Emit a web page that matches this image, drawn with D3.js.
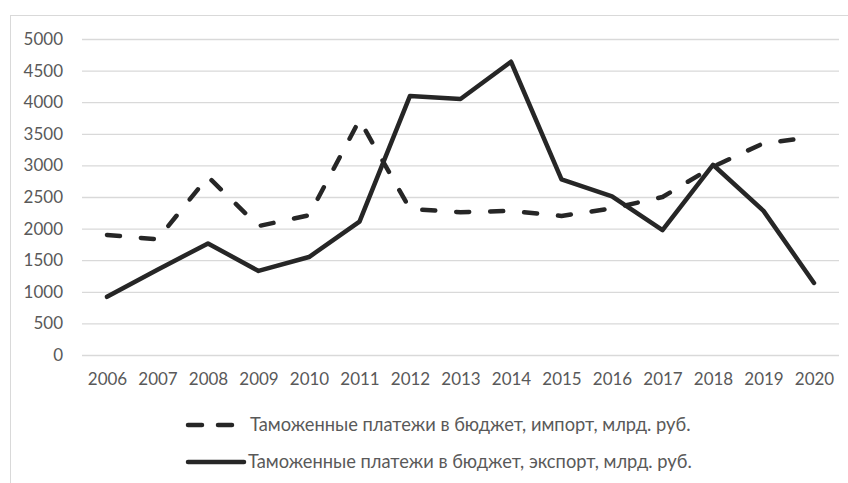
<!DOCTYPE html>
<html>
<head>
<meta charset="utf-8">
<script src="https://cdn.jsdelivr.net/npm/d3@7"></script>
<style>
  body { margin: 0; background: #fff; }
  svg { display: block; }
  text { font-family: Lato, "Open Sans", sans-serif; fill: #595959; }
</style>
</head>
<body>
<div id="chart"></div>
<script>
// data
var years = [2006, 2007, 2008, 2009, 2010, 2011, 2012, 2013, 2014, 2015, 2016, 2017, 2018, 2019, 2020];
var importValues = [1900, 1830, 2820, 2040, 2210, 3720, 2310, 2260, 2280, 2200, 2320, 2500, 2980, 3350, 3450];
var exportValues = [920, 1350, 1765, 1330, 1550, 2110, 4100, 4050, 4640, 2780, 2510, 1975, 3010, 2280, 1140];
var yTicks = [0, 500, 1000, 1500, 2000, 2500, 3000, 3500, 4000, 4500, 5000];
var seriesNames = [
  "Таможенные платежи в бюджет, импорт, млрд. руб.",
  "Таможенные платежи в бюджет, экспорт, млрд. руб."
];

var width = 848, height = 483;
var plot = {left: 82, right: 839, top: 39, bottom: 355};

var svg = d3.select("#chart")
  .append("svg")
  .attr("width", width)
  .attr("height", height);

// chart area border (cropped on right and bottom)
svg.append("rect")
  .attr("x", 10.5).attr("y", 15.5)
  .attr("width", width).attr("height", height)
  .attr("fill", "none")
  .attr("stroke", "#d9d9d9")
  .attr("stroke-width", 1);

var x = d3.scalePoint()
  .domain(years)
  .range([107, 814]);
var y = d3.scaleLinear()
  .domain([0, 5000])
  .range([plot.bottom, plot.top]);

// gridlines + y labels
var yAxis = g => g
  .attr("transform", `translate(${plot.left},0)`)
  .call(d3.axisLeft(y).tickValues(yTicks).tickFormat(d3.format("d"))
      .tickSize(-(plot.right - plot.left)).tickPadding(19))
  .call(g => g.select(".domain").remove())
  .call(g => g.selectAll(".tick line").attr("stroke", "#d9d9d9").attr("stroke-width", 1.3))
  .call(g => g.selectAll(".tick text")
      .attr("font-size", 17)
      .attr("font-family", "Lato, sans-serif")
      .attr("fill", "#595959"));

var xAxis = g => g
  .attr("transform", `translate(0,${plot.bottom})`)
  .call(d3.axisBottom(x).tickSize(0).tickPadding(18))
  .call(g => g.select(".domain").remove())
  .call(g => g.selectAll(".tick text")
      .attr("font-size", 17)
      .attr("font-family", "Lato, sans-serif")
      .attr("fill", "#595959"));

svg.append("g").call(yAxis);
svg.append("g").call(xAxis);

var line = d3.line()
  .x((d, i) => x(years[i]))
  .y(d => y(d));

svg.append("path")
  .datum(importValues)
  .attr("fill", "none")
  .attr("stroke", "#262626")
  .attr("stroke-width", 4.5)
  .attr("stroke-linejoin", "round")
  .attr("stroke-linecap", "round")
  .attr("stroke-dasharray", "13 21")
  .attr("d", line);

svg.append("path")
  .datum(exportValues)
  .attr("fill", "none")
  .attr("stroke", "#262626")
  .attr("stroke-width", 4.5)
  .attr("stroke-linejoin", "round")
  .attr("stroke-linecap", "round")
  .attr("d", line);

// legend
var legend = svg.append("g").attr("class", "legend");
var legendRows = [
  {name: seriesNames[0], dash: "14 16", y: 425, textX: 250},
  {name: seriesNames[1], dash: null, y: 462, textX: 248}
];
legendRows.forEach(r => {
  legend.append("line")
    .attr("x1", 188).attr("x2", r.dash ? 238 : 244)
    .attr("y1", r.y).attr("y2", r.y)
    .attr("stroke", "#262626")
    .attr("stroke-width", 4.5)
    .attr("stroke-linecap", "round")
    .attr("stroke-dasharray", r.dash);
  legend.append("text")
    .attr("x", r.textX)
    .attr("y", r.y)
    .attr("dy", "0.35em")
    .attr("font-size", 18.3)
    .text(r.name);
});
</script>
</body>
</html>
